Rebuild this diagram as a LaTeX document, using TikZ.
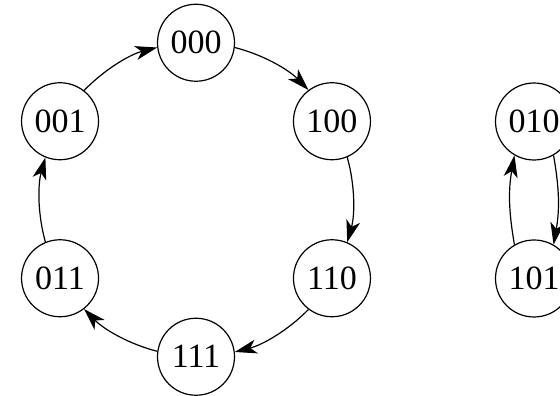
\documentclass[tikz,border=0pt]{standalone}
\usepackage{fontspec}
\setmainfont{Liberation Serif}
\usetikzlibrary{arrows.meta}
\begin{document}
\begin{tikzpicture}[x=1pt,y=1pt,
  state/.style={circle,draw,line width=1.2pt,minimum size=77pt,inner sep=0pt,
    font=\fontsize{34}{40}\selectfont},
  arr/.style={line width=1.2pt,-{Stealth[length=22pt,width=14pt,inset=6pt]}},
  ring/.style={looseness=0.87}]
\useasboundingbox (0,0) rectangle (560,396);
\clip (0,0) rectangle (560,396);
\fill[white] (0,0) rectangle (560,396);
\begin{scope}[shift={(196,196.25)}]
\node[state] (n000) at (90:157) {000};
\node[state] (n100) at (30:157) {100};
\node[state] (n110) at (-30:157) {110};
\node[state] (n111) at (-90:157) {111};
\node[state] (n011) at (-150:157) {011};
\node[state] (n001) at (150:157) {001};
\end{scope}
\node[state] (n010) at (534,274.5) {010};
\node[state] (n101) at (534,117.5) {101};
\draw[arr] (n000.-7.15) to[ring,out=-14.3,in=134.3] (n100.127.15);
\draw[arr] (n100.-67.15) to[ring,out=-74.3,in=74.3] (n110.67.15);
\draw[arr] (n110.-127.15) to[ring,out=-134.3,in=14.3] (n111.7.15);
\draw[arr] (n111.172.85) to[ring,out=165.7,in=-45.7] (n011.-52.85);
\draw[arr] (n011.112.85) to[ring,out=105.7,in=-105.7] (n001.-112.85);
\draw[arr] (n001.52.85) to[ring,out=45.7,in=194.3] (n000.187.15);
\draw[arr] (n101.120) to[out=100,in=260] (n010.240);
\draw[arr] (n010.300) to[out=-80,in=80] (n101.60);
\end{tikzpicture}
\end{document}
